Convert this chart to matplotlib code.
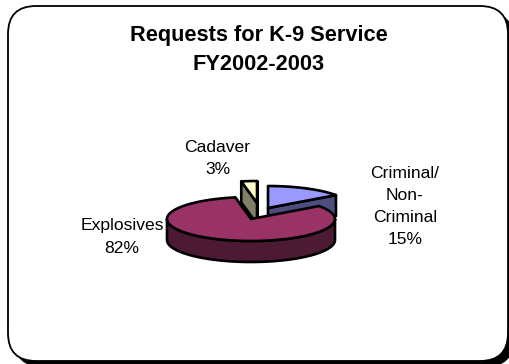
#!/usr/bin/env python3
import numpy as np
import matplotlib

matplotlib.use("Agg")
import matplotlib.pyplot as plt
from matplotlib.patches import FancyBboxPatch, Polygon

plt.rcParams["font.family"] = ["Liberation Sans", "DejaVu Sans"]

TITLE = "Requests for K-9 Service\nFY2002-2003"
CATEGORIES = ["Criminal/\nNon-\nCriminal", "Explosives", "Cadaver"]
SHARES = [15, 82, 3]

TOP_COLORS = ["#9999FF", "#993366", "#FFFFCC"]
SIDE_COLORS = ["#4D4D80", "#4D1A33", "#808066"]

RX, RY, DEPTH = 84, 22, 21
# slice apex on the canvas, pulled apart from the pie centre
APEX = {"Criminal/\nNon-\nCriminal": (268, 208), "Explosives": (251, 219), "Cadaver": (257, 203)}


def rim(cx, cy, start, end, n=80):
    t = np.radians(np.linspace(start, end, n))
    return np.column_stack([cx + RX * np.cos(t), cy - RY * np.sin(t)])


def draw_slice(ax, name, start, end, top, side, zo):
    cx, cy = APEX[name]
    apex = np.array([cx, cy])
    drop = np.array([0, DEPTH])
    style = dict(closed=True, ec="black", lw=1.9, joinstyle="round")

    # cut faces turned towards the viewer
    if np.sin(np.radians(start)) > 0:
        p = rim(cx, cy, start, start, 1)[0]
        ax.add_patch(Polygon([apex, p, p + drop, apex + drop], fc=side, zorder=zo, **style))
    if np.cos(np.radians(end)) < 0:
        p = rim(cx, cy, end, end, 1)[0]
        ax.add_patch(Polygon([apex, p, p + drop, apex + drop], fc=side, zorder=zo, **style))

    # outer wall, only the front half of the rim shows
    lo, hi = max(start, -180), min(end, 0)
    if lo < hi:
        arc = rim(cx, cy, lo, hi)
        ax.add_patch(Polygon(np.vstack([arc, (arc + drop)[::-1]]), fc=side, zorder=zo, **style))

    ax.add_patch(Polygon(np.vstack([apex, rim(cx, cy, start, end)]), fc=top, zorder=zo + 1, **style))


def main():
    fig = plt.figure(figsize=(5.09, 3.64), dpi=100)
    ax = fig.add_axes([0, 0, 1, 1])
    ax.set_xlim(0, 509)
    ax.set_ylim(364, 0)
    ax.axis("off")

    # panel with a hard drop shadow
    shadow = FancyBboxPatch((42, 40), 444, 299, boxstyle="round,pad=28,rounding_size=28", fc="black", ec="none", zorder=1)
    panel = FancyBboxPatch((36, 34), 444, 299, boxstyle="round,pad=28,rounding_size=28", fc="white", ec="black", lw=1.3, zorder=2)
    ax.add_patch(shadow)
    ax.add_patch(panel)

    # slices run clockwise from twelve o'clock
    angles = 90 - np.cumsum([0] + SHARES) * 3.6
    order = [0, 2, 1]
    for zo, i in zip((5, 7, 9), order):
        draw_slice(ax, CATEGORIES[i], angles[i + 1], angles[i], TOP_COLORS[i], SIDE_COLORS[i], zo)

    ax.text(259, 49.5, TITLE, ha="center", va="center", fontsize=15.7, fontweight="bold", linespacing=1.5, zorder=20)
    labels = [
        (f"{CATEGORIES[0]}\n{SHARES[0]}%", 405, 206.5),
        (f"{CATEGORIES[1]}\n{SHARES[1]}%", 122, 237),
        (f"{CATEGORIES[2]}\n{SHARES[2]}%", 217.5, 158.5),
    ]
    for text, x, y in labels:
        ax.text(x, y, text, ha="center", va="center", fontsize=12.6, linespacing=1.6, zorder=20)

    fig.savefig("out.png", dpi=100)
    plt.close(fig)


if __name__ == "__main__":
    main()
